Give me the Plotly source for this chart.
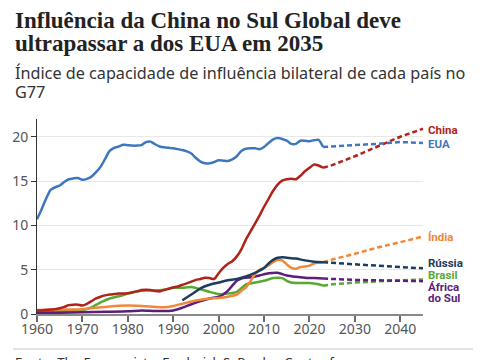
import plotly.graph_objects as go

# ---------------- data ----------------
years_annual = list(range(1960, 2024))
usa = [10.7, 11.8, 13.0, 14.0, 14.3, 14.5, 14.9, 15.2, 15.3, 15.35,
       15.15, 15.25, 15.5, 16.0, 16.6, 17.5, 18.4, 18.75, 18.9, 19.1,
       19.05, 19.0, 19.0, 19.05, 19.4, 19.45, 19.15, 18.9, 18.8, 18.75,
       18.7, 18.6, 18.5, 18.35, 18.1, 17.6, 17.2, 17.0, 17.0, 17.15,
       17.35, 17.3, 17.25, 17.45, 17.8, 18.4, 18.65, 18.7, 18.7, 18.6,
       18.85, 19.3, 19.7, 19.85, 19.75, 19.55, 19.2, 19.2, 19.55, 19.55,
       19.5, 19.6, 19.65, 18.85]
china = [0.4, 0.4, 0.45, 0.5, 0.55, 0.65, 0.8, 1.0, 1.05, 1.05,
         0.95, 1.15, 1.45, 1.75, 1.95, 2.1, 2.2, 2.25, 2.3, 2.3,
         2.35, 2.45, 2.55, 2.7, 2.75, 2.7, 2.6, 2.55, 2.7, 2.85,
         3.0, 3.1, 3.3, 3.45, 3.65, 3.85, 3.95, 4.1, 4.05, 3.95,
         4.6, 5.2, 5.65, 5.95, 6.5, 7.3, 8.4, 9.3, 10.2, 11.1,
         12.1, 13.0, 13.9, 14.6, 15.05, 15.2, 15.25, 15.2, 15.6, 16.1,
         16.5, 16.85, 16.75, 16.5]

brasil_years = [1960, 1965, 1970, 1972, 1974, 1976, 1978, 1980, 1982, 1984, 1986, 1988,
                1990, 1992, 1994, 1996, 1998, 2000, 2002, 2004, 2005, 2006, 2007, 2008,
                2010, 2012, 2014, 2015, 2016, 2018, 2020, 2022, 2023]
brasil = [0.3, 0.35, 0.45, 0.75, 1.3, 1.75, 2.0, 2.3, 2.55, 2.65, 2.65, 2.75,
          2.95, 2.95, 3.05, 2.8, 2.5, 2.25, 2.3, 2.5, 2.9, 3.35, 3.45, 3.55,
          3.75, 4.05, 4.05, 3.75, 3.55, 3.5, 3.5, 3.35, 3.2]

africa_years = [1960, 1965, 1970, 1975, 1980, 1983, 1986, 1989, 1990, 1992, 1994, 1996,
                1998, 2000, 2001, 2002, 2003, 2004, 2005, 2007, 2009, 2011, 2013, 2015,
                2017, 2019, 2021, 2023]
africa = [0.15, 0.15, 0.2, 0.25, 0.3, 0.4, 0.35, 0.35, 0.4, 0.7, 1.1, 1.45,
          1.75, 1.95, 2.2, 2.6, 3.2, 3.75, 4.0, 4.15, 4.35, 4.6, 4.65, 4.35,
          4.2, 4.1, 4.05, 4.0]

india_years = [1960, 1965, 1970, 1975, 1980, 1983, 1986, 1988, 1990, 1992, 1994, 1996,
               1998, 2000, 2002, 2004, 2005, 2006, 2007, 2008, 2009, 2010, 2011, 2012,
               2013, 2014, 2015, 2016, 2017, 2018, 2019, 2020, 2021, 2022, 2023]
india = [0.45, 0.5, 0.55, 0.8, 0.95, 0.9, 0.8, 0.75, 0.9, 1.15, 1.4, 1.6,
         1.75, 1.8, 1.95, 2.2, 2.6, 3.0, 3.7, 4.5, 5.0, 5.2, 5.5, 5.85,
         6.1, 6.05, 5.6, 5.2, 5.1, 5.3, 5.35, 5.45, 5.7, 5.8, 5.85]

russia_years = [1992, 1994, 1996, 1998, 2000, 2002, 2004, 2006, 2008, 2009, 2010, 2011,
                2012, 2013, 2014, 2015, 2017, 2019, 2021, 2023]
russia = [1.55, 2.2, 2.9, 3.3, 3.55, 3.8, 3.95, 4.25, 4.65, 4.9, 5.2, 5.7,
          6.1, 6.35, 6.4, 6.35, 6.25, 6.05, 5.9, 5.85]

proj_years = [2023, 2025, 2030, 2035, 2040, 2045]
china_proj = [16.5, 16.8, 17.8, 18.9, 20.0, 20.9]
usa_proj = [18.85, 18.9, 19.0, 19.2, 19.4, 19.3]
india_proj = [5.85, 6.15, 6.8, 7.5, 8.1, 8.75]
russia_proj = [5.85, 5.8, 5.6, 5.45, 5.3, 5.15]
brasil_proj = [3.2, 3.35, 3.55, 3.7, 3.8, 3.9]
africa_proj = [4.0, 3.95, 3.85, 3.8, 3.75, 3.7]

x_ticks = [1960, 1970, 1980, 1990, 2000, 2010, 2020, 2030, 2040]
y_ticks = [0, 5, 10, 15, 20]

title_lines = ["Influência da China no Sul Global deve", "ultrapassar a dos EUA em 2035"]
subtitle_lines = ["Índice de capacidade de influência bilateral de cada país no", "G77"]
source_lines = ["Fonte: The Economist e Frederick S. Pardee Center for", "International Futures"]

C_CHINA = "#b0231a"
C_USA = "#3f77bf"
C_INDIA = "#f2873a"
C_RUSSIA = "#1c3d5d"
C_BRASIL = "#58a933"
C_AFRICA = "#5c1e7b"

series = [
    ("Brasil", brasil_years, brasil, brasil_proj, C_BRASIL),
    ("África do Sul", africa_years, africa, africa_proj, C_AFRICA),
    ("Índia", india_years, india, india_proj, C_INDIA),
    ("Rússia", russia_years, russia, russia_proj, C_RUSSIA),
    ("China", years_annual, china, china_proj, C_CHINA),
    ("EUA", years_annual, usa, usa_proj, C_USA),
]

fig = go.Figure()
for name, xs, ys, proj, col in series:
    fig.add_trace(go.Scatter(x=xs, y=ys, mode="lines", name=name,
                             line=dict(color=col, width=2.5, shape="spline", smoothing=0.6),
                             hoverinfo="skip"))
for name, xs, ys, proj, col in series:
    fig.add_trace(go.Scatter(x=proj_years, y=proj, mode="lines", name=name + " proj",
                             line=dict(color=col, width=2.5, dash="5px,3px"),
                             hoverinfo="skip"))

# page has an 8px body margin: design in page pixels, convert to figure pixels
OFF = 8
PAGE_W, PAGE_H = 485, 360
W, H = PAGE_W - OFF, PAGE_H - OFF
L, R, T, B = 37 - OFF, 423 - OFF, 119 - OFF, 314 - OFF


def px(xp):
    return (xp - OFF - L) / (R - L)


def py(yp):
    return (B - (yp - OFF)) / (B - T)


ann = []
for line, yc in zip(title_lines, [20.5, 43.5]):
    ann.append(dict(text="<b>" + line + "</b>", x=px(13), y=py(yc), xref="paper", yref="paper",
                    xanchor="left", yanchor="middle", align="left", showarrow=False,
                    font=dict(family="Liberation Serif", size=23, color="#222222")))
for line, yc in zip(subtitle_lines, [72.5, 92]):
    ann.append(dict(text=line, x=px(13), y=py(yc), xref="paper", yref="paper",
                    xanchor="left", yanchor="middle", align="left", showarrow=False,
                    font=dict(family="Noto Sans", size=16.2, color="#333333")))

labels = [("China", 130, C_CHINA), ("EUA", 144, C_USA), ("Índia", 237, C_INDIA),
          ("Rússia", 262.5, C_RUSSIA), ("Brasil", 275, C_BRASIL),
          ("África", 287, C_AFRICA), ("do Sul", 298, C_AFRICA)]
for t, yy, col in labels:
    ann.append(dict(text="<b>" + t + "</b>", x=px(427), y=py(yy), xref="paper", yref="paper",
                    xanchor="left", yanchor="middle", align="left", showarrow=False,
                    borderpad=0,
                    font=dict(family="Roboto", size=11.5, color=col)))

for line, yc in zip(source_lines, [362, 382]):
    ann.append(dict(text=line, x=px(13), y=py(yc), xref="paper", yref="paper",
                    xanchor="left", yanchor="middle", align="left", showarrow=False,
                    font=dict(family="Noto Sans", size=13.2, color="#333333")))

shapes = [
    dict(type="rect", xref="paper", yref="paper", x0=px(0), x1=px(479), y0=py(-5), y1=py(400),
         fillcolor="white", line=dict(width=0), layer="below"),
    dict(type="line", xref="paper", yref="paper", x0=px(13), x1=px(473), y0=py(349), y1=py(349),
         line=dict(color="#c8c8c8", width=1)),
]

fig.update_layout(
    width=W, height=H,
    margin=dict(l=L, r=W - R, t=T, b=H - B, pad=0, autoexpand=False),
    paper_bgcolor="#f3f3f3", plot_bgcolor="white",
    showlegend=False,
    annotations=ann, shapes=shapes,
    xaxis=dict(range=[1960, 2045], tickvals=x_ticks, showgrid=False, zeroline=False,
               automargin=False,
               showline=True, linecolor="#8a8a8a", linewidth=2,
               ticks="outside", ticklen=6, tickwidth=1.5, tickcolor="#6a6a6a",
               ticklabelstandoff=-5,
               tickfont=dict(family="Noto Sans", size=14, color="#555555")),
    yaxis=dict(range=[0, 22], tickvals=y_ticks, showgrid=True, gridcolor="#e8e8e8", gridwidth=1,
               automargin=False,
               zeroline=False, showline=True, linecolor="#333333", linewidth=1,
               ticks="outside", ticklen=5, tickwidth=1, tickcolor="#333333",
               tickfont=dict(family="Noto Sans", size=14, color="#555555")),
)

fig.write_html("out.html")
